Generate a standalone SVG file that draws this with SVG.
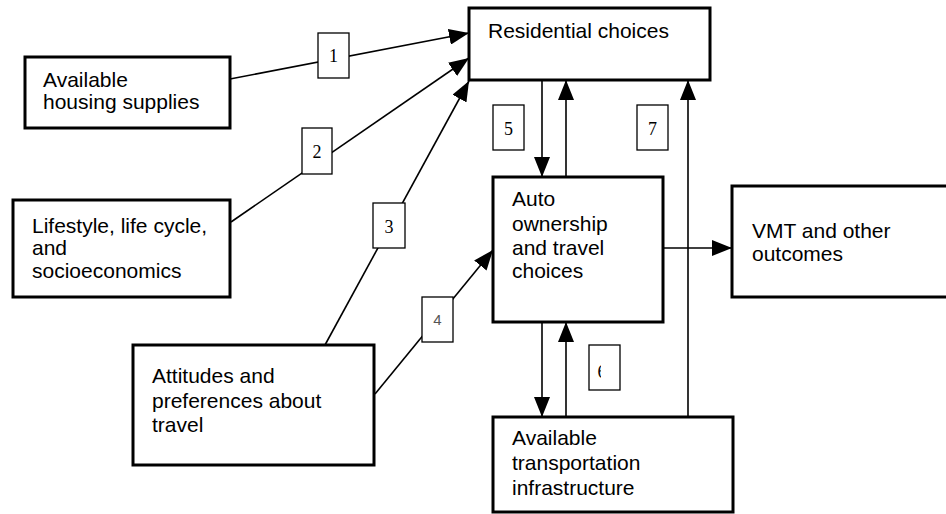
<svg xmlns="http://www.w3.org/2000/svg" width="946" height="514" viewBox="0 0 946 514">
<style>
.node{fill:#fff;stroke:#000;stroke-width:3}
.lbl{fill:#fff;stroke:#000;stroke-width:1.3}
.t{font-family:"Liberation Sans",Arial,sans-serif;font-size:21px;fill:#000}
.n{font-family:"Liberation Serif","Times New Roman",serif;font-size:18px;fill:#000;text-anchor:middle}
.n4{font-family:"Liberation Sans",Arial,sans-serif;font-size:15px;fill:#555;text-anchor:middle}
.c{fill:none;stroke:#000;stroke-width:1.6}
</style>
<defs>
<marker id="ah" markerUnits="userSpaceOnUse" markerWidth="20" markerHeight="16" refX="20" refY="8" orient="auto">
<path d="M0,0 L20,8 L0,16 z" fill="#000"/>
</marker>
<clipPath id="clip6"><rect x="589" y="345" width="12" height="45"/></clipPath>
</defs>
<rect width="946" height="514" fill="#fff"/>
<g id="connectors">
<line class="c" x1="230" y1="79" x2="469" y2="33" marker-end="url(#ah)"/>
<line class="c" x1="231" y1="222" x2="469" y2="58" marker-end="url(#ah)"/>
<line class="c" x1="325" y1="345" x2="469" y2="81" marker-end="url(#ah)"/>
<line class="c" x1="375" y1="394" x2="493" y2="250" marker-end="url(#ah)"/>
<line class="c" x1="542" y1="80" x2="542" y2="177" marker-end="url(#ah)"/>
<line class="c" x1="566" y1="177" x2="566" y2="80" marker-end="url(#ah)"/>
<line class="c" x1="688" y1="417" x2="688" y2="80" marker-end="url(#ah)"/>
<line class="c" x1="542" y1="322" x2="542" y2="417" marker-end="url(#ah)"/>
<line class="c" x1="566" y1="417" x2="566" y2="322" marker-end="url(#ah)"/>
<line class="c" x1="663" y1="248" x2="732" y2="248" marker-end="url(#ah)"/>
<g id="label1"><rect class="lbl" x="318" y="33" width="31" height="45"/><text class="n" x="333.5" y="62">1</text></g>
<g id="label2"><rect class="lbl" x="302" y="128" width="30" height="46"/><text class="n" x="317" y="158">2</text></g>
<g id="label3"><rect class="lbl" x="373" y="203" width="32" height="45"/><text class="n" x="389" y="233">3</text></g>
<g id="label4"><rect class="lbl" x="422" y="297" width="31" height="45"/><text class="n4" x="437.5" y="325">4</text></g>
<g id="label5"><rect class="lbl" x="493" y="105" width="31" height="45"/><text class="n" x="508.5" y="135">5</text></g>
<g id="label6"><rect class="lbl" x="589" y="345" width="31" height="45"/><text class="n" x="602" y="378" clip-path="url(#clip6)">6</text></g>
<g id="label7"><rect class="lbl" x="637" y="105" width="31" height="45"/><text class="n" x="652.5" y="135">7</text></g>
</g>
<g id="residential">
<rect class="node" x="469" y="8" width="241" height="72"/>
<text class="t" x="488" y="38">Residential choices</text>
</g>
<g id="housing">
<rect class="node" x="25" y="57" width="205" height="71"/>
<text class="t" x="43" y="87">Available</text>
<text class="t" x="43" y="109">housing supplies</text>
</g>
<g id="lifestyle">
<rect class="node" x="13" y="200" width="217" height="97"/>
<text class="t" x="32" y="233">Lifestyle, life cycle,</text>
<text class="t" x="32" y="255">and</text>
<text class="t" x="32" y="278">socioeconomics</text>
</g>
<g id="attitudes">
<rect class="node" x="133" y="345" width="241" height="120"/>
<text class="t" x="152" y="383">Attitudes and</text>
<text class="t" x="152" y="408">preferences about</text>
<text class="t" x="152" y="432">travel</text>
</g>
<g id="auto">
<rect class="node" x="493" y="177" width="170" height="145"/>
<text class="t" x="512" y="206">Auto</text>
<text class="t" x="512" y="231">ownership</text>
<text class="t" x="512" y="255">and travel</text>
<text class="t" x="512" y="278">choices</text>
</g>
<g id="vmt">
<rect class="node" x="732" y="186" width="220" height="111"/>
<text class="t" x="752" y="238">VMT and other</text>
<text class="t" x="752" y="261">outcomes</text>
</g>
<g id="transport">
<rect class="node" x="493" y="417" width="240" height="95"/>
<text class="t" x="512" y="445">Available</text>
<text class="t" x="512" y="470">transportation</text>
<text class="t" x="512" y="495">infrastructure</text>
</g>
</svg>
